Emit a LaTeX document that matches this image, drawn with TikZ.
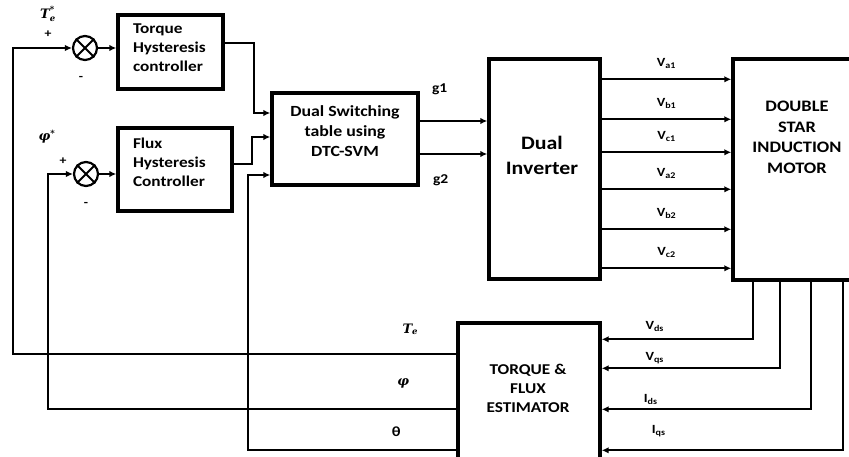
\documentclass[tikz,border=0pt]{standalone}
\usepackage{fontspec}
\setmainfont{Carlito}[FakeStretch=1.15]
\newfontfamily\symfont{DejaVu Serif}
\newcommand{\bsym}[1]{\hbox{\symfont\bfseries\itshape #1}}
\newcommand{\ssym}[1]{\hbox{\symfont\bfseries\itshape\fontsize{8.5}{10}\selectfont #1}}
\usetikzlibrary{positioning,arrows.meta}
\begin{document}
\begin{tikzpicture}[
    x=1pt, y=-1pt,
    node distance=30pt,
    box/.style={draw, line width=3.4pt, inner sep=0pt},
    txt/.style={font=\bfseries\fontsize{15}{19}\selectfont, inner sep=0pt},
    summer/.style={circle, draw, line width=2.2pt, minimum size=24pt, inner sep=0pt},
    lbl/.style={font=\bfseries\fontsize{12.5}{14}\selectfont, inner sep=1pt},
    sgn/.style={font=\bfseries\fontsize{12}{14}\selectfont, inner sep=0pt},
    mlbl/.style={font=\fontsize{13}{15}\selectfont, inner sep=0pt},
    arr/.style={-{Latex[length=7pt,width=6.5pt]}, line width=2.2pt}
]
    \useasboundingbox (0,0) rectangle (849,457);
    \clip (0,0) rectangle (849,457);

    % 比较器
    \node[summer] (sumT) at (85,48) {};
    \node[summer] (sumF) at (86,174) {};
    \foreach \s in {sumT,sumF}
        \draw[line width=2pt] (\s.north west) -- (\s.south east) (\s.north east) -- (\s.south west);

    \node[sgn] (minT) [below of=sumT, xshift=-4pt] {-};
    \node[sgn] (plusT) [left of=sumT, xshift=-7pt, yshift=14pt] {+};
    \node[mlbl] (teref) [above of=plusT, yshift=-10pt] {$\bsym{T}_{\ssym{e}}^{\ssym{*}}$};
    \node[sgn] (minF) [below of=sumF] {-};
    \node[sgn] (plusF) [left of=sumF, xshift=7pt, yshift=13pt] {+};
    \node[mlbl] (phiref) [above of=plusF, xshift=-16pt, yshift=-6pt] {$\bsym{φ}^{\ssym{*}}$};

    % 方框
    \node[box, minimum width=105pt, minimum height=74pt] (torque) at (170.5,52) {};
    \node[txt, text width=75pt, align=left] (torquetxt) at (170.5,48) {Torque\\Hysteresis\\controller};
    \node[box, minimum width=114pt, minimum height=83pt] (flux) at (175,169.5) {};
    \node[txt, text width=84pt, align=left] (fluxtxt) at (175,162) {Flux\\Hysteresis\\Controller};
    \node[box, minimum width=146pt, minimum height=92pt] (ds) at (345,139) {};
    \node[txt, font=\bfseries\fontsize{15.5}{20}\selectfont, align=center] (dstxt) at (345,131) {Dual Switching\\table using\\DTC-SVM};
    \node[box, minimum width=111pt, minimum height=220pt] (inv) at (544.5,169) {};
    \node[txt, font=\bfseries\fontsize{19}{25}\selectfont, align=center] (invtxt) at (542,155) {Dual\\Inverter};
    \node[box, minimum width=128pt, minimum height=221pt] (motor) at (797,169.5) {};
    \node[txt, font=\bfseries\fontsize{16}{20.5}\selectfont, align=center] (motortxt) at (797,137.5) {DOUBLE\\STAR\\INDUCTION\\MOTOR};
    \node[box, minimum width=142pt, minimum height=152pt] (est) at (529,399) {};
    \node[txt, align=center] (esttxt) at (528,388) {TORQUE \&\\FLUX\\ESTIMATOR};

    % 连线
    \draw[arr] (sumT) -- (sumT -| torque.west);
    \draw[arr] (sumF) -- (sumF -| flux.west);
    \draw[arr] ([yshift=9pt]torque.east) -- ++(29,0) |- ([yshift=26pt]ds.west);
    \draw[arr] ([yshift=5.5pt]flux.east) -- ++(18,0) |- ([yshift=2pt]ds.west);
    \draw[arr, line width=2.6pt] ([yshift=18pt]ds.east) -- ([yshift=18pt]ds.east -| inv.west);
    \draw[arr, line width=2.6pt] ([yshift=-15pt]ds.east) -- ([yshift=-15pt]ds.east -| inv.west);
    \node[lbl, font=\bfseries\fontsize{13.5}{15}\selectfont] (gone) at ([xshift=20pt,yshift=50pt]ds.east) {g1};
    \node[lbl, font=\bfseries\fontsize{13.5}{15}\selectfont] (gtwo) at ([xshift=21pt,yshift=-41pt]ds.east) {g2};

    \foreach \dy/\s in {22/a1,62/b1,95/c1,132/a2,172/b2,211/c2}
        \draw[arr, line width=2pt] ([yshift=-\dy pt]inv.north east) -- ([yshift=-\dy pt]motor.north west)
            node[lbl, midway, above=9pt] {V\textsubscript{\s}};

    \foreach \dx/\dy/\lx/\ly/\t in {22/18/53/5/V\textsubscript{ds},49/47/53/37/V\textsubscript{qs},80/88/49/78/I\textsubscript{ds},112/129/57/110/I\textsubscript{qs}}{
        \draw[arr, line width=2pt] ([xshift=\dx pt]motor.south west) |- ([yshift=-\dy pt]est.north east);
        \node[lbl] at ([xshift=\lx pt,yshift=-\ly pt]est.north east) {\t};
    }

    % 反馈
    \draw[arr] ([yshift=-33pt]est.north west) -| ([xshift=-59pt]sumT.west) -- (sumT);
    \draw[arr] ([yshift=-88pt]est.north west) -| ([xshift=-25pt]sumF.west) -- (sumF);
    \draw[arr] ([yshift=-129pt]est.north west) -| ([xshift=-22pt,yshift=-36pt]ds.west) -- ([yshift=-36pt]ds.west);
    \node[mlbl] (te) at ([xshift=-46pt,yshift=-8pt]est.north west) {$\bsym{T}_{\ssym{e}}$};
    \node[mlbl] (phi) at ([xshift=-53pt,yshift=-62pt]est.north west) {$\bsym{φ}$};
    \node[lbl, font=\bfseries\fontsize{14}{15}\selectfont] (theta) at ([xshift=-60pt,yshift=-110pt]est.north west) {θ};
\end{tikzpicture}
\end{document}
